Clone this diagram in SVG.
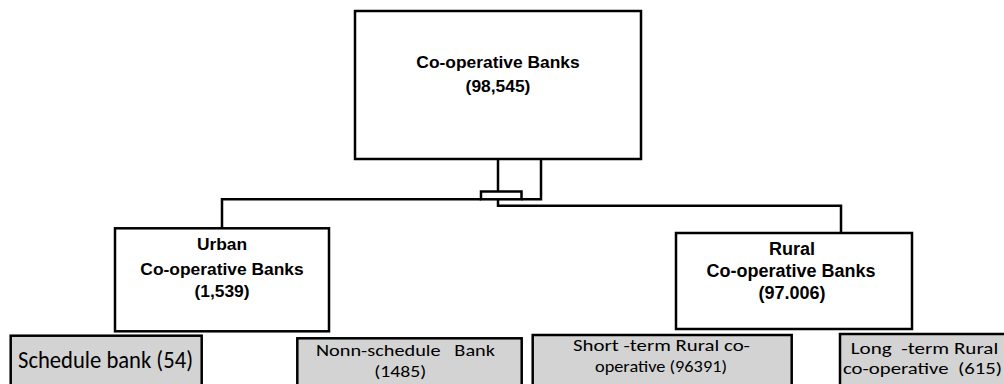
<svg xmlns="http://www.w3.org/2000/svg" width="1004" height="384" viewBox="0 0 1004 384">
<style>
.box{fill:#ffffff;stroke:#000;stroke-width:2.5}
.leaf{fill:#d3d3d3;stroke:#000;stroke-width:2.5}
.conn{fill:none;stroke:#000;stroke-width:2.5}
.hd{font-family:"Liberation Sans",Arial,sans-serif;font-weight:bold;fill:#000;text-anchor:middle}
.lf{font-family:Carlito,Calibri,"Liberation Sans",Arial,sans-serif;fill:#000;font-size:16.8px}
</style>
<rect width="1004" height="384" fill="#ffffff"/>
<g id="connectors">
<polyline class="conn" points="498,159 498,191.5"/>
<rect class="conn" x="481" y="191.5" width="40.5" height="7.8"/>
<polyline class="conn" points="541,159 541,199.3 521.5,199.3"/>
<polyline class="conn" points="481,199.3 222,199.3 222,228"/>
<polyline class="conn" points="498,199.3 498,205.8 841,205.8 841,233"/>
</g>
<g id="root">
<rect class="box" x="355" y="11" width="286" height="148"/>
<text class="hd" x="498" y="68.3" font-size="17.4">Co-operative Banks</text>
<text class="hd" x="498" y="91.7" font-size="17.4">(98,545)</text>
</g>
<g id="urban">
<rect class="box" x="115" y="228.3" width="214" height="103"/>
<text class="hd" x="222" y="250" font-size="17.4">Urban</text>
<text class="hd" x="222" y="275" font-size="17.4">Co-operative Banks</text>
<text class="hd" x="222" y="296.7" font-size="17.4">(1,539)</text>
</g>
<g id="rural">
<rect class="box" x="676" y="233" width="236" height="96"/>
<text class="hd" x="792" y="255" font-size="18">Rural</text>
<text class="hd" x="791" y="277.3" font-size="18">Co-operative Banks</text>
<text class="hd" x="792" y="299.3" font-size="18">(97.006)</text>
</g>
<g id="schedule">
<rect class="leaf" x="10.7" y="335.7" width="191" height="70"/>
<text class="lf" x="18" y="367.7" style="font-size:24px" textLength="175" lengthAdjust="spacingAndGlyphs">Schedule bank (54)</text>
</g>
<g id="nonschedule">
<rect class="leaf" x="297.3" y="338.3" width="224.4" height="70"/>
<text class="lf" x="316" y="356" textLength="179" lengthAdjust="spacingAndGlyphs" xml:space="preserve">Nonn-schedule   Bank</text>
<text class="lf" x="374.3" y="376.5" textLength="52" lengthAdjust="spacingAndGlyphs">(1485)</text>
</g>
<g id="shortterm">
<rect class="leaf" x="532.7" y="335" width="259" height="70"/>
<text class="lf" x="573" y="351" textLength="177" lengthAdjust="spacingAndGlyphs">Short -term Rural co-</text>
<text class="lf" x="595" y="371.5" textLength="132" lengthAdjust="spacingAndGlyphs">operative (96391)</text>
</g>
<g id="longterm">
<rect class="leaf" x="840" y="334" width="180" height="70"/>
<text class="lf" x="850.7" y="353.5" textLength="147.6" lengthAdjust="spacingAndGlyphs" xml:space="preserve">Long  -term Rural</text>
<text class="lf" x="843" y="374" textLength="159" lengthAdjust="spacingAndGlyphs" xml:space="preserve">co-operative  (615)</text>
</g>
</svg>
